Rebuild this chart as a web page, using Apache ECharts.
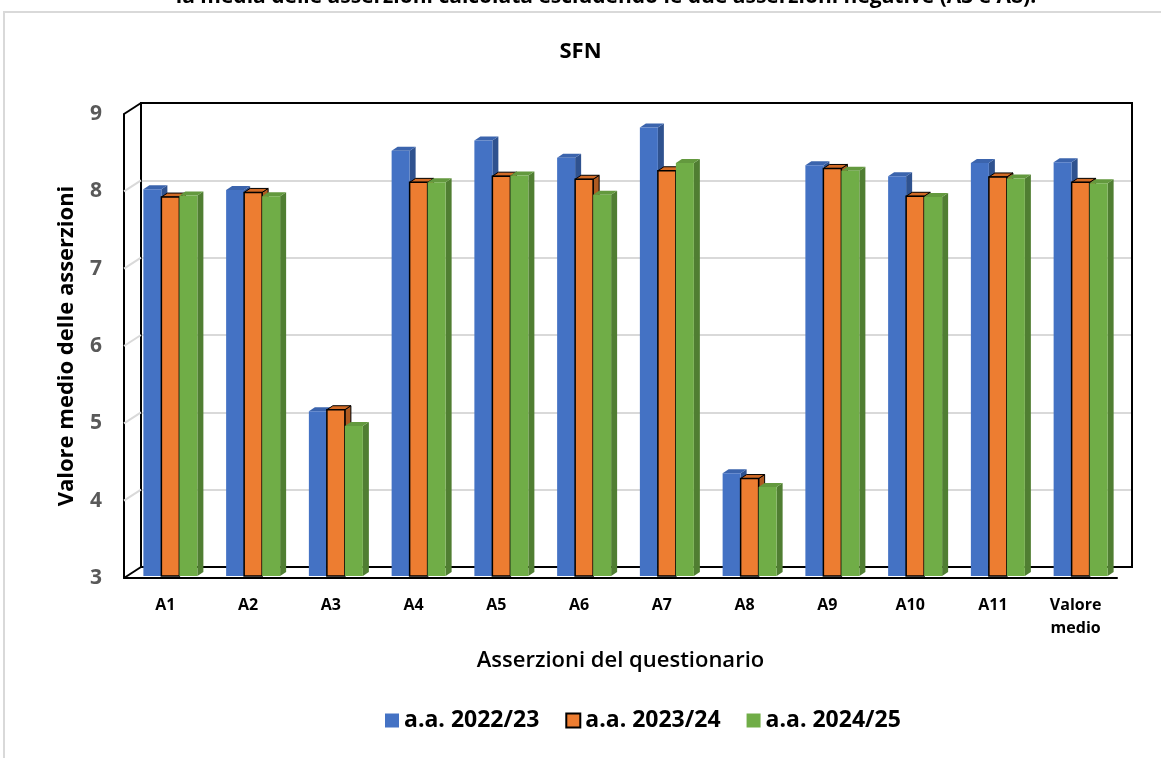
<!DOCTYPE html>
<html>
<head>
<meta charset="utf-8">
<script src="https://cdn.jsdelivr.net/npm/echarts@6/dist/echarts.min.js"></script>
<style>
  html, body { margin: 0; padding: 0; background: #fff; }
  #chart { width: 1161px; height: 758px; }
</style>
</head>
<body>
<div id="chart"></div>
<script>
// categorie e valori
var categories = ['A1', 'A2', 'A3', 'A4', 'A5', 'A6', 'A7', 'A8', 'A9', 'A10', 'A11', 'Valore\nmedio'];
var seriesNames = ['a.a. 2022/23', 'a.a. 2023/24', 'a.a. 2024/25'];
var aa2223 = [8.00, 7.99, 5.13, 8.50, 8.63, 8.41, 8.80, 4.33, 8.31, 8.17, 8.34, 8.35];
var aa2324 = [7.90, 7.96, 5.15, 8.09, 8.17, 8.13, 8.24, 4.26, 8.27, 7.91, 8.16, 8.09];
var aa2425 = [7.92, 7.91, 4.94, 8.09, 8.18, 7.93, 8.34, 4.15, 8.24, 7.90, 8.14, 8.08];
var yTicks = [3, 4, 5, 6, 7, 8, 9];

var FONT = 'Open Sans';
var faces = [
    {front: '#4472C4', side: '#2F528F', top: '#3B64AD', stroke: null},
    {front: '#ED7D31', side: '#AE5A21', top: '#D26B26', stroke: '#000'},
    {front: '#70AD47', side: '#507E32', top: '#63993E', stroke: null}
];

function makeRender(i) {
    return function (params, api) {
        var cat = api.value(0), v = api.value(1);
        var pTop = api.coord([cat, v]);
        var pBase = api.coord([cat, 3]);
        var bw = 18, dx = 6, dy = 4;
        var x0 = pTop[0] - 27 + i * bw + 5, x1 = x0 + bw;
        var yT = pTop[1] - 2, yB = pBase[1] - 2;
        var f = faces[i];
        var thin = f.stroke ? {stroke: f.stroke, lineWidth: 1} : {};
        var thick = f.stroke ? {stroke: f.stroke, lineWidth: 1.5} : {};
        return {
            type: 'group',
            children: [
                {
                    type: 'polygon',
                    shape: {points: [[x1, yT], [x1 + dx, yT - dy], [x1 + dx, yB - dy], [x1, yB]]},
                    style: Object.assign({fill: f.side}, thin)
                },
                {
                    type: 'polygon',
                    shape: {points: [[x0, yT], [x0 + dx, yT - dy], [x1 + dx, yT - dy], [x1, yT]]},
                    style: Object.assign({fill: f.top}, thin)
                },
                {
                    type: 'rect',
                    shape: {x: x0, y: yT, width: bw, height: yB - yT},
                    style: Object.assign({fill: f.front}, thick)
                }
            ]
        };
    };
}

function toData(arr) {
    return arr.map(function (v, k) { return [k, v]; });
}

var allValues = [aa2223, aa2324, aa2425];
var series = allValues.map(function (arr, i) {
    return {
        name: seriesNames[i],
        type: 'custom',
        xAxisIndex: 0,
        yAxisIndex: 0,
        renderItem: makeRender(i),
        encode: {x: 0, y: 1},
        itemStyle: faces[i].stroke ? {color: faces[i].front, borderColor: '#000', borderWidth: 1.5} : {color: faces[i].front},
        data: toData(arr),
        z: 5
    };
});

var chart = echarts.init(document.getElementById('chart'));
var option = {
    animation: false,
    backgroundColor: '#fff',
    title: {
        text: 'SFN',
        left: 'center',
        top: 36,
        textStyle: {fontFamily: FONT, fontWeight: 'bold', fontSize: 22, color: '#000'}
    },
    legend: {
        data: seriesNames,
        top: 704,
        left: 380,
        icon: 'rect',
        itemWidth: 14,
        itemHeight: 14,
        itemGap: 26,
        textStyle: {fontFamily: FONT, fontWeight: 'bold', fontSize: 23, color: '#000'}
    },
    grid: [
        {left: 124, top: 114, right: 44, bottom: 180},
        {left: 141, top: 103, right: 29, bottom: 191, show: true, borderColor: '#000', borderWidth: 2, z: 0}
    ],
    xAxis: [
        {
            type: 'category', gridIndex: 0, data: categories,
            axisLine: {lineStyle: {color: '#000', width: 2}},
            axisTick: {show: false},
            axisLabel: {margin: 16, fontFamily: FONT, fontWeight: 'bold', fontSize: 16, color: '#000', lineHeight: 23, interval: 0},
            name: 'Asserzioni del questionario',
            nameLocation: 'middle',
            nameGap: 72,
            nameTextStyle: {fontFamily: FONT, fontWeight: 600, fontSize: 22, color: '#000'}
        },
        {type: 'category', gridIndex: 1, data: categories, show: false}
    ],
    yAxis: [
        {
            type: 'value', gridIndex: 0, min: 3, max: 9, interval: 1,
            axisLine: {show: true, lineStyle: {color: '#000', width: 2}},
            axisTick: {show: false},
            splitLine: {show: false},
            axisLabel: {margin: 22, fontFamily: FONT, fontWeight: 'bold', fontSize: 21, color: '#595959'},
            name: 'Valore medio delle asserzioni',
            nameLocation: 'middle',
            nameGap: 46,
            nameTextStyle: {fontFamily: FONT, fontWeight: 'bold', fontSize: 22, color: '#000'}
        },
        {
            type: 'value', gridIndex: 1, min: 3, max: 9, interval: 1,
            axisLine: {show: false}, axisTick: {show: false}, axisLabel: {show: false},
            splitLine: {show: true, showMinLine: false, showMaxLine: false, lineStyle: {color: '#D9D9D9', width: 2}}
        }
    ],
    series: series
};
chart.setOption(option);

// parete sinistra, bordo della parete di fondo e cornice
var FRONT_X = 124, BACK_X = 141, BACK_R = 1132;
var yB9 = chart.convertToPixel({yAxisIndex: 1}, 9);
var yB3 = chart.convertToPixel({yAxisIndex: 1}, 3);
var graphics = [
    {
        type: 'rect', shape: {x: 4, y: 12, width: 1300, height: 900},
        style: {fill: null, stroke: '#D9D9D9', lineWidth: 2}, z: -10, silent: true
    },
    {
        type: 'text', x: 606, y: 8,
        style: {
            text: 'la media delle asserzioni calcolata escludendo le due asserzioni negative (A3 e A8).',
            font: 'bold 21px "Open Sans"', fill: '#000', textAlign: 'center', textVerticalAlign: 'bottom'
        }
    },
    {
        type: 'polyline', shape: {points: [[BACK_X, yB3], [BACK_X, yB9], [BACK_R, yB9], [BACK_R, yB3], [BACK_X, yB3]]},
        style: {stroke: '#000', lineWidth: 2, fill: null}, z: 1
    }
];
yTicks.forEach(function (v) {
    var yF = chart.convertToPixel({yAxisIndex: 0}, v);
    var yB = chart.convertToPixel({yAxisIndex: 1}, v);
    var edge = (v === 3 || v === 9);
    graphics.push({
        type: 'line',
        shape: {x1: FRONT_X, y1: yF, x2: BACK_X, y2: yB},
        style: {stroke: edge ? '#000' : '#D9D9D9', lineWidth: 2},
        z: edge ? 2 : 1
    });
});
chart.setOption({graphic: graphics});
</script>
</body>
</html>
